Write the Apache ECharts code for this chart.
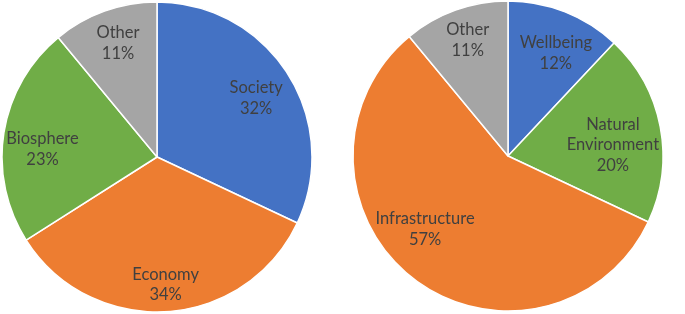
<!DOCTYPE html>
<html><head><meta charset="utf-8">
<script src="https://cdn.jsdelivr.net/npm/echarts@6/dist/echarts.min.js"></script>
<style>html,body{margin:0;padding:0;background:#fff}#c{width:685px;height:314px}</style>
</head><body><div id="c"></div>
<script>
const leftCategories = ['Society', 'Economy', 'Biosphere', 'Other'];
const leftValues = [32, 34, 23, 11];
const leftColors = ['#4472C4', '#ED7D31', '#70AD47', '#A5A5A5'];
const rightCategories = ['Wellbeing', 'Natural\nEnvironment', 'Infrastructure', 'Other'];
const rightValues = [12, 20, 57, 11];
const rightColors = ['#4472C4', '#70AD47', '#ED7D31', '#A5A5A5'];

// label nudges (style only)
const leftLabelShift = [[-3, 6], [1, 7], [5, 11], [2, 0]];
const rightLabelShift = [[4, 8], [-12, 11], [-10, -21], [0, -4]];

const font = 'Lato';
function slices(center, cats, vals, colors) {
  return {
    type: 'pie', center: center, radius: [0, 155], startAngle: 90, clockwise: true,
    silent: true, animation: false,
    data: cats.map((c, i) => ({ name: c, value: vals[i], itemStyle: { color: colors[i] } })),
    itemStyle: { borderColor: '#fff', borderWidth: 1.5 },
    label: { show: false }, labelLine: { show: false }
  };
}
function labels(center, cats, vals, shifts, r0, r1) {
  return {
    type: 'pie', center: center, radius: [r0, r1], startAngle: 90, clockwise: true,
    silent: true, animation: false,
    data: cats.map((c, i) => ({ name: c, value: vals[i], label: { offset: shifts[i] } })),
    itemStyle: { color: 'rgba(0,0,0,0)', borderWidth: 0 },
    label: { show: true, position: 'inside', formatter: p => p.name + '\n' + p.value + '%',
      color: '#404040', fontFamily: font, fontSize: 16.5, lineHeight: 20.5, align: 'center' },
    labelLine: { show: false }
  };
}
const chart = echarts.init(document.getElementById('c'), null, { renderer: 'canvas' });
chart.setOption({
  backgroundColor: '#fff',
  series: [
    slices([157, 157], leftCategories, leftValues, leftColors),
    slices([508, 156], rightCategories, rightValues, rightColors),
    labels([157, 157], leftCategories, leftValues, leftLabelShift, 98, 138),
    labels([508, 156], rightCategories, rightValues, rightLabelShift, 96, 136)
  ]
});
</script></body></html>
